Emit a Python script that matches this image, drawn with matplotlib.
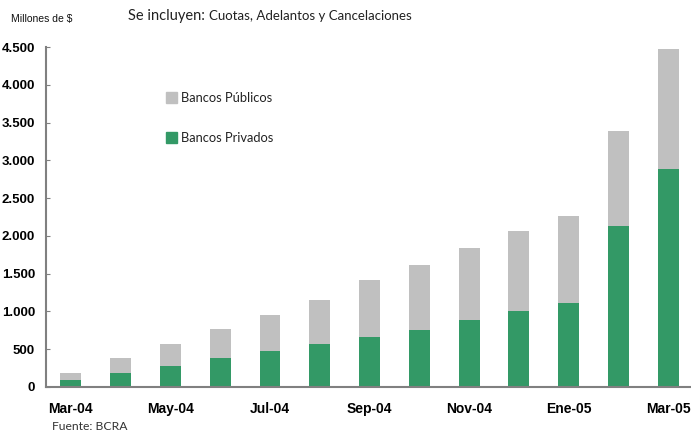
import numpy as np
import matplotlib.pyplot as plt

# Datos (millones de $)
meses = ['Mar-04', 'Abr-04', 'May-04', 'Jun-04', 'Jul-04', 'Ago-04', 'Sep-04',
         'Oct-04', 'Nov-04', 'Dic-04', 'Ene-05', 'Feb-05', 'Mar-05']
privados = [95, 186, 280, 386, 479, 572, 665, 759, 892, 1012, 1118, 2130, 2889]
publicos = [90, 199, 292, 384, 471, 586, 746, 852, 946, 1052, 1146, 1252, 1581]
yticks = [0, 500, 1000, 1500, 2000, 2500, 3000, 3500, 4000, 4500]
ytick_labels = ['0', '500', '1.000', '1.500', '2.000', '2.500', '3.000', '3.500', '4.000', '4.500']

verde = '#339966'
gris = '#c0c0c0'
eje = '#808080'
fuente = ['Lato', 'DejaVu Sans']

fig = plt.figure(figsize=(6.91, 4.34), dpi=100, facecolor='w')
ax = fig.add_axes([0.0666, 0.1083, 0.94, 0.7834])

x = np.arange(len(meses))
ax.bar(x, privados, width=0.42, color=verde, label='Bancos Privados')
ax.bar(x, publicos, width=0.42, bottom=privados, color=gris, label='Bancos Públicos')

ax.set_xlim(-0.5, 12.55)
ax.set_ylim(0, 4500)
ax.set_yticks(yticks)
ax.set_yticklabels(ytick_labels, fontfamily='Liberation Sans', fontweight='bold', fontsize=9.5)
ax.set_xticks(x[::2])
ax.set_xticklabels(meses[::2], fontfamily='Liberation Sans', fontweight='bold', fontsize=10)
ax.tick_params(axis='y', direction='in', length=3, color=eje, pad=8)
ax.tick_params(axis='x', length=0, pad=11)

for s in ['top', 'right']:
    ax.spines[s].set_visible(False)
for s in ['left', 'bottom']:
    ax.spines[s].set_color(eje)
    ax.spines[s].set_linewidth(1.5)

# Leyenda manual
fig.patches.append(plt.Rectangle((166/691, 1-103/434), 11/691, 11/434, color=gris,
                                 transform=fig.transFigure, figure=fig))
fig.patches.append(plt.Rectangle((166/691, 1-143/434), 11/691, 11/434, color=verde,
                                 transform=fig.transFigure, figure=fig))
fig.text(181/691, 1-98/434, 'Bancos Públicos', fontfamily=fuente, fontsize=9.3,
         va='center', color='#222222')
fig.text(181/691, 1-138/434, 'Bancos Privados', fontfamily=fuente, fontsize=9.3,
         va='center', color='#222222')

# Textos
fig.text(205/691, 1-16/434, 'Se incluyen:', fontfamily=fuente, fontsize=10.5,
         ha='right', va='center', color='#222222')
fig.text(209/691, 1-16/434, 'Cuotas, Adelantos y Cancelaciones', fontfamily=fuente,
         fontsize=9.5, va='center', color='#222222')
fig.text(11/691, 1-19/434, 'Millones de $', fontfamily='Liberation Sans', fontsize=7.5,
         va='center', color='#111111')
fig.text(52/691, 1-427/434, 'Fuente: BCRA', fontfamily=fuente, fontsize=8.7,
         va='center', color='#333333')

fig.savefig('out.png', dpi=100, facecolor='w')
